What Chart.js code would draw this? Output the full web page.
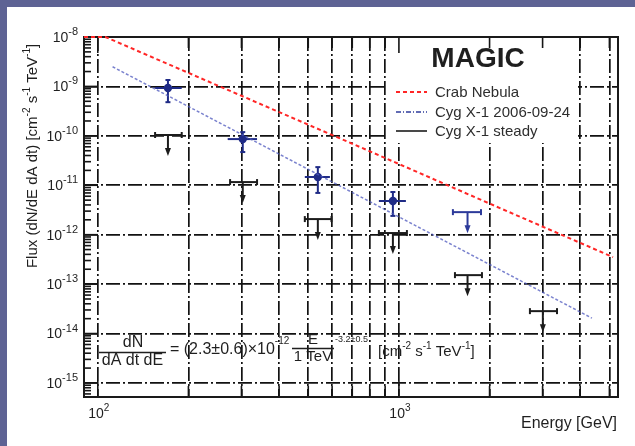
<!DOCTYPE html>
<html>
<head>
<meta charset="utf-8">
<script src="https://cdn.jsdelivr.net/npm/chart.js@4/dist/chart.umd.min.js"></script>
<style>
  html, body { margin: 0; padding: 0; background: #fff; overflow: hidden; }
  canvas { display: block; }
</style>
</head>
<body>
<canvas id="c" width="635" height="446"></canvas>
<script>
// Energies in GeV, fluxes in cm^-2 s^-1 TeV^-1

// Cyg X-1, 2006-09-24 detections (with bin edges and 1-sigma flux range)
const flareE   = [171, 303, 538, 955];
const flareElo = [155, 270, 487, 858];
const flareEhi = [190, 338, 590, 1055];
const flareF   = [9.3e-10, 8.6e-11, 1.47e-11, 4.8e-12];
const flareFlo = [4.8e-10, 4.7e-11, 7.0e-12, 2.4e-12];
const flareFhi = [1.35e-9, 1.19e-10, 2.33e-11, 7.3e-12];

// Cyg X-1, 2006-09-24 upper limit
const flareUlE   = [1690];
const flareUlElo = [1511];
const flareUlEhi = [1873];
const flareUlF   = [2.86e-12];

// Cyg X-1 steady emission upper limits
const steadyE   = [171, 303, 538, 955, 1690, 3006];
const steadyElo = [155, 275, 487, 858, 1535, 2723];
const steadyEhi = [190, 338, 597, 1063, 1887, 3350];
const steadyUl  = [1.04e-10, 1.16e-11, 2.07e-12, 1.08e-12, 1.52e-13, 2.84e-14];

// Crab Nebula reference spectrum
const crabE = [90, 106, 783, 2166, 5140];
const crabF = [1e-8, 1e-8, 5.16e-11, 3.45e-12, 3.52e-13];

// Power-law fit to the 2006-09-24 spectrum
const fitE = [112, 4375];
const fitF = [2.5e-9, 2.05e-14];

// Axes
const xRange = [90, 5340];
const yRange = [5.2e-16, 1e-8];
const xGrid = [100, 200, 300, 400, 500, 600, 700, 800, 900, 1000, 2000, 3000, 4000, 5000];
const xLabelExp = [2, 3];
const yLabelExp = [-8, -9, -10, -11, -12, -13, -14, -15];
const yMinorMant = [2, 3, 4, 5, 6, 7, 8, 9];

const legendLabels = ['Crab Nebula', 'Cyg X-1 2006-09-24', 'Cyg X-1 steady'];
const legendTitle = 'MAGIC';
const xTitle = 'Energy [GeV]';

const FONT = '"Liberation Sans", Arial, sans-serif';
const INK = '#1f1f1f';
const BLUE = '#1f2b86';

function pts(xs, ys) { return xs.map((x, i) => ({ x, y: ys[i] })); }

// draws a row of text pieces: [text, size, raise, weight]
function drawRuns(ctx, runs, x, y, align) {
  let total = 0;
  const widths = runs.map(r => {
    ctx.font = (r[3] || 'normal') + ' ' + r[1] + 'px ' + FONT;
    const w = ctx.measureText(r[0]).width;
    total += w;
    return w;
  });
  let cx = align === 'right' ? x - total : align === 'center' ? x - total / 2 : x;
  ctx.textAlign = 'left';
  ctx.textBaseline = 'middle';
  runs.forEach((r, i) => {
    ctx.font = (r[3] || 'normal') + ' ' + r[1] + 'px ' + FONT;
    ctx.fillText(r[0], cx, y - (r[2] || 0));
    cx += widths[i];
  });
}

function line(ctx, x1, y1, x2, y2) {
  ctx.beginPath(); ctx.moveTo(x1, y1); ctx.lineTo(x2, y2); ctx.stroke();
}

function upperLimit(ctx, xs, x1, x2, y, color) {
  ctx.strokeStyle = color; ctx.fillStyle = color; ctx.lineWidth = 2;
  line(ctx, x1, y, x2, y);
  line(ctx, x1, y - 3, x1, y + 3);
  line(ctx, x2, y - 3, x2, y + 3);
  line(ctx, xs, y, xs, y + 15);
  ctx.beginPath();
  ctx.moveTo(xs - 3, y + 13); ctx.lineTo(xs + 3, y + 13); ctx.lineTo(xs, y + 21);
  ctx.closePath(); ctx.fill();
}

const decor = {
  id: 'decor',
  beforeDraw(chart) {
    const ctx = chart.ctx;
    ctx.save();
    ctx.fillStyle = '#ffffff';
    ctx.fillRect(0, 0, chart.width, chart.height);
    ctx.fillStyle = '#5e6394';
    ctx.fillRect(0, 0, chart.width, 7);
    ctx.fillRect(0, 0, 7, chart.height);
    ctx.restore();
  },
  beforeDatasetsDraw(chart) {
    const ctx = chart.ctx, a = chart.chartArea;
    const xs = chart.scales.x, ys = chart.scales.y;
    ctx.save();

    // legend panel
    ctx.fillStyle = '#ffffff';
    ctx.fillRect(387, a.top + 1, 191, 142 - a.top);

    // axis ticks
    ctx.strokeStyle = '#151515'; ctx.lineWidth = 1.6;
    xGrid.forEach(v => {
      const p = xs.getPixelForValue(v);
      const major = Math.abs(Math.log10(v) - Math.round(Math.log10(v))) < 1e-9;
      const len = major ? 16 : 11;
      line(ctx, p, a.top, p, a.top + len);
      line(ctx, p, a.bottom, p, a.bottom - len);
    });
    for (let n = -16; n <= -8; n++) {
      const py = ys.getPixelForValue(Math.pow(10, n));
      if (py >= a.top - 0.5 && py <= a.bottom + 0.5) line(ctx, a.left, py, a.left + 14, py);
      yMinorMant.forEach(m => {
        const v = m * Math.pow(10, n);
        const q = ys.getPixelForValue(v);
        if (q > a.top && q < a.bottom) line(ctx, a.left, q, a.left + 7, q);
      });
    }

    // frame
    ctx.lineWidth = 2; ctx.strokeStyle = '#1a1a1a';
    ctx.strokeRect(a.left, a.top, a.right - a.left, a.bottom - a.top);

    // flare error bars
    ctx.strokeStyle = BLUE; ctx.lineWidth = 2;
    flareE.forEach((e, i) => {
      const px = xs.getPixelForValue(e);
      const py = ys.getPixelForValue(flareF[i]);
      const pl = xs.getPixelForValue(flareElo[i]), ph = xs.getPixelForValue(flareEhi[i]);
      const fl = ys.getPixelForValue(flareFlo[i]), fh = ys.getPixelForValue(flareFhi[i]);
      line(ctx, pl, py, ph, py);
      line(ctx, px, fl, px, fh);
      line(ctx, px - 2.5, fl, px + 2.5, fl);
      line(ctx, px - 2.5, fh, px + 2.5, fh);
    });
    flareUlE.forEach((e, i) => {
      upperLimit(ctx, xs.getPixelForValue(e), xs.getPixelForValue(flareUlElo[i]),
        xs.getPixelForValue(flareUlEhi[i]), ys.getPixelForValue(flareUlF[i]), '#2c3a9a');
    });
    steadyE.forEach((e, i) => {
      upperLimit(ctx, xs.getPixelForValue(e), xs.getPixelForValue(steadyElo[i]),
        xs.getPixelForValue(steadyEhi[i]), ys.getPixelForValue(steadyUl[i]), '#1c1c1c');
    });
    ctx.restore();
  },
  afterDatasetsDraw(chart) {
    const ctx = chart.ctx, a = chart.chartArea;
    const xs = chart.scales.x, ys = chart.scales.y;
    ctx.save();
    ctx.fillStyle = INK;

    // tick labels
    yLabelExp.forEach(n => {
      const py = ys.getPixelForValue(Math.pow(10, n));
      drawRuns(ctx, [['10', 14, 0], [String(n), 11, 6]], 78, py + 1, 'right');
    });
    xLabelExp.forEach(n => {
      const px = xs.getPixelForValue(Math.pow(10, n));
      drawRuns(ctx, [['10', 14, 0], [String(n), 10, 6]], px + 1, 414, 'center');
    });

    // axis titles
    drawRuns(ctx, [[xTitle, 16, 0]], 617, 424, 'right');
    ctx.save();
    ctx.translate(33, 156);
    ctx.rotate(-Math.PI / 2);
    drawRuns(ctx, [['Flux (dN/dE dA dt) [cm', 15, 0], ['-2', 10, 6], [' s', 15, 0], ['-1', 10, 6],
      [' TeV', 15, 0], ['-1', 10, 6], [']', 15, 0]], 0, 0, 'center');
    ctx.restore();

    // legend
    drawRuns(ctx, [[legendTitle, 28, 0, 'bold']], 478, 59, 'center');
    const rows = [92, 112, 131];
    const styles = [
      { c: '#ff2626', d: [4, 3], w: 2 },
      { c: '#2f3c9c', d: [5, 2, 1, 2], w: 1.6 },
      { c: '#1c1c1c', d: [], w: 1.6 }
    ];
    legendLabels.forEach((t, i) => {
      ctx.strokeStyle = styles[i].c; ctx.lineWidth = styles[i].w; ctx.setLineDash(styles[i].d);
      line(ctx, 396, rows[i], 427, rows[i]);
      ctx.setLineDash([]);
      ctx.fillStyle = '#2e2e2e';
      drawRuns(ctx, [[t, 15, 0]], 435, rows[i] + 1, 'left');
    });

    // fitted spectrum formula
    ctx.fillStyle = INK;
    drawRuns(ctx, [['dN', 16, 0]], 133, 343, 'center');
    drawRuns(ctx, [['dA dt dE', 16, 0]], 132.5, 361, 'center');
    ctx.strokeStyle = INK; ctx.lineWidth = 1.5;
    line(ctx, 99, 352.5, 166, 352.5);
    drawRuns(ctx, [['= (2.3\u00b10.6)\u00d710', 16, 0], ['-12', 10, 9]], 170, 350, 'left');
    drawRuns(ctx, [['E', 15, 0]], 313, 340, 'center');
    line(ctx, 292, 348.5, 334, 348.5);
    drawRuns(ctx, [['1 TeV', 15, 0]], 313, 357, 'center');
    drawRuns(ctx, [['-3.2\u00b10.5', 9, 0]], 335, 340, 'left');
    drawRuns(ctx, [['[cm', 15, 0], ['-2', 10, 6], [' s', 15, 0], ['-1', 10, 6],
      [' TeV', 15, 0], ['-1', 10, 6], [']', 15, 0]], 378, 352, 'left');
    ctx.restore();
  }
};

new Chart(document.getElementById('c'), {
  type: 'scatter',
  data: {
    datasets: [
      {
        label: legendLabels[0], type: 'line', data: pts(crabE, crabF),
        borderColor: '#ff2626', borderWidth: 2, borderDash: [4, 3],
        pointRadius: 0, fill: false, tension: 0, clip: false
      },
      {
        label: legendLabels[1] + ' fit', type: 'line', data: pts(fitE, fitF),
        borderColor: 'rgba(78,88,190,0.75)', borderWidth: 1.5, borderDash: [3, 2],
        pointRadius: 0, fill: false, tension: 0, clip: false
      },
      {
        label: legendLabels[1], data: pts(flareE, flareF),
        pointRadius: 4.2, pointHoverRadius: 4.2,
        backgroundColor: BLUE, borderColor: BLUE, borderWidth: 0
      }
    ]
  },
  options: {
    responsive: false,
    animation: false,
    events: [],
    layout: { padding: { left: 84, top: 37, right: 17, bottom: 49 } },
    plugins: { legend: { display: false }, tooltip: { enabled: false } },
    scales: {
      x: {
        type: 'logarithmic', min: xRange[0], max: xRange[1], bounds: 'data',
        ticks: { display: false },
        grid: { color: '#121212', lineWidth: 1.7, drawTicks: false },
        border: { display: false, dash: [14, 3, 2, 3] },
        afterBuildTicks: s => { s.ticks = xGrid.map(v => ({ value: v })); }
      },
      y: {
        type: 'logarithmic', min: yRange[0], max: yRange[1], bounds: 'data',
        ticks: { display: false },
        grid: { color: '#121212', lineWidth: 1.7, drawTicks: false },
        border: { display: false, dash: [14, 3, 2, 3] },
        afterBuildTicks: s => { s.ticks = yLabelExp.map(n => ({ value: Math.pow(10, n) })); }
      }
    }
  },
  plugins: [decor]
});
</script>
</body>
</html>
